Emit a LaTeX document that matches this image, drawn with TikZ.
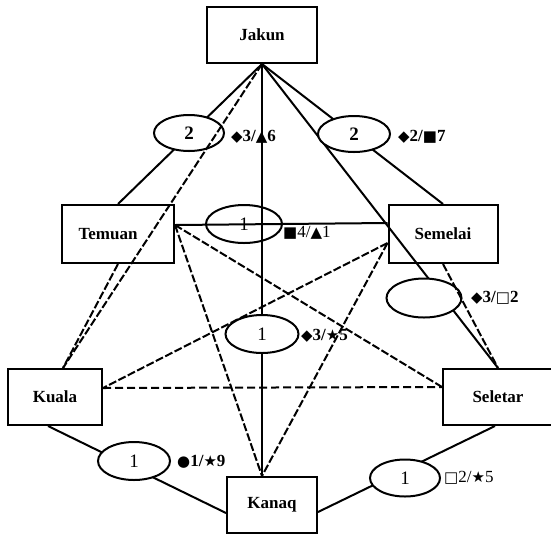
\documentclass[tikz,border=0pt]{standalone}
\usepackage{fontspec}
\setmainfont{Liberation Serif}
\newfontfamily\symfont{DejaVu Sans}
\usetikzlibrary{shapes.geometric}
\newcommand{\sy}[1]{{\symfont\fontsize{15}{15}\selectfont #1}}
\begin{document}
\begin{tikzpicture}[x=1pt,y=-1pt,
  box/.style={draw, line width=2pt, rectangle, inner sep=0pt, font=\fontsize{17}{20}\selectfont\bfseries},
  oval/.style={draw, ellipse, line width=2pt, inner sep=0pt, minimum width=72pt, minimum height=37pt, font=\fontsize{19}{22}\selectfont},
  sl/.style={line width=2pt},
  dl/.style={line width=2pt, dash pattern=on 8pt off 2.5pt},
  hl/.style={line width=2pt, dash pattern=on 8pt off 4pt},
  lab/.style={anchor=west, inner sep=0pt, font=\fontsize{17}{20}\selectfont}]
\useasboundingbox (0,0) rectangle (551,539);
\clip (0,0) rectangle (551,539);
% boxes
\node[box, minimum width=110pt, minimum height=56pt] (Jakun) at (262,35) {Jakun};
\node[box, minimum width=112pt, minimum height=58pt] (Temuan) at (118,234) {Temuan\hspace*{20pt}};
\node[box, minimum width=109pt, minimum height=58pt] (Semelai) at (443,234) {Semelai};
\node[box, minimum width=94pt, minimum height=56pt] (Kuala) at (55,397) {Kuala};
\node[box, minimum width=118pt, minimum height=56pt] (Seletar) at (502,397) {Seletar\hspace*{8pt}};
\node[box, minimum width=90pt, minimum height=56pt] (Kanaq) at (272,505) {Kanaq};
% solid connectors
\draw[sl] (Jakun.south) -- (Temuan.north);
\draw[sl] (Jakun.south) -- (Semelai.north);
\draw[sl] (Jakun.south) -- ([xshift=-4pt]Seletar.north);
\draw[sl] (Jakun.south) -- ([xshift=-10pt]Kanaq.north);
\draw[sl] ([yshift=9pt]Temuan.east) -- ([yshift=11pt]Semelai.west);
\draw[sl] ([xshift=-7pt]Kuala.south) -- ([yshift=-8pt]Kanaq.west);
\draw[sl] ([xshift=-7pt]Seletar.south) -- ([yshift=-7pt]Kanaq.east);
% ellipses
\node[oval, fill=white, minimum width=70pt, minimum height=36pt] (E1) at (189,133) {\textbf{2}};
\node[oval, fill=white, minimum width=72pt, minimum height=36pt] (E2) at (354,134) {\textbf{2}};
\node[oval, minimum width=76pt, minimum height=38pt] (E3) at (244,224) {1};
\node[oval, fill=white, minimum width=73pt, minimum height=38pt] (E4) at (262,334) {1};
\node[oval, fill=white, minimum width=75pt, minimum height=39pt] (E5) at (424,298) {};
\node[oval, fill=white, minimum width=72pt, minimum height=38pt] (E6) at (134,461) {1};
\node[oval, fill=white, minimum width=70pt, minimum height=37pt] (E7) at (405,478) {1};
% dashed connectors
\draw[dl] (Jakun.south) -- ([xshift=8pt]Kuala.north);
\draw[dl] (Temuan.south) -- ([xshift=8pt]Kuala.north);
\draw[dl] ([yshift=9pt]Temuan.east) -- ([yshift=10pt]Seletar.west);
\draw[dl] ([yshift=9pt]Temuan.east) -- ([xshift=-10pt]Kanaq.north);
\draw[dl] ([yshift=-9pt]Semelai.west) -- ([yshift=9pt]Kuala.east);
\draw[dl] ([yshift=-9pt]Semelai.west) -- ([xshift=-10pt]Kanaq.north);
\draw[dl] (Semelai.south) -- ([xshift=-4pt]Seletar.north);
\draw[hl] ([yshift=9pt]Kuala.east) -- ([yshift=10pt]Seletar.west);
% labels
\node[lab, font=\fontsize{17}{20}\selectfont\bfseries] (L1) at (231,137) {\sy{◆}3/\sy{▲}6};
\node[lab, font=\fontsize{17}{20}\selectfont\bfseries] (L2) at (398,137) {\sy{◆}2/\sy{■}7};
\node[lab] (L3) at (283,233) {\sy{■}4/\sy{▲}1};
\node[lab, font=\fontsize{17}{20}\selectfont\bfseries] (L4) at (301,336) {\sy{◆}3/\sy{★}5};
\node[lab, font=\fontsize{17}{20}\selectfont\bfseries] (L5) at (471,298) {\sy{◆}3/\sy{□}2};
\node[lab, font=\fontsize{17}{20}\selectfont\bfseries] (L6) at (177,462) {\sy{●}1/\sy{★}9};
\node[lab] (L7) at (444,478) {\sy{□}2/\sy{★}5};
\end{tikzpicture}
\end{document}
